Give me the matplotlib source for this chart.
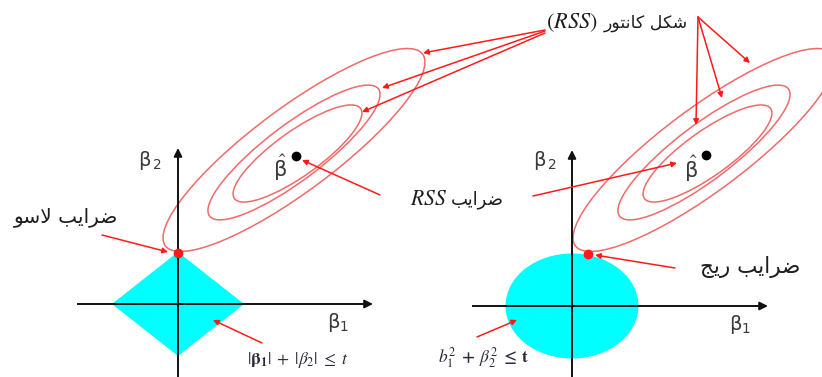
import matplotlib.pyplot as plt
from matplotlib.patches import Ellipse, Polygon

plt.rcParams['mathtext.fontset'] = 'stix'

# geometry, in pixels of the 822x377 picture
origin_x = [178, 572]
origin_y = [304, 306]
axis_left = [78, 473]
axis_right = [373, 768]
axis_top = [148, 150]
axis_bottom = 377

region_half_w = [66, 66.5]
region_half_h = [52, 52.5]

# RSS contour rings (same shape in both panels, shifted)
rss_cx = [295, 705]
ring_dx = [2.5, -1, -1]
ring_cy = [153.5, 152.5, 150]
ring_a = [77.5, 105.7, 160.4]
ring_b = [22.4, 27.9, 41.6]
ring_tilt = [35.5, 37, 36.7]

beta_hat_x = [296, 706]
beta_hat_y = [156, 155]
sol_x = [178, 588]
sol_y = [253, 254]

# pointer arrows (x0, y0, x1, y1)
pointers = [
    (545, 30, 423, 53), (545, 31, 382, 88), (545, 33, 362, 112),
    (698, 17, 696, 125), (698, 17, 722, 98), (698, 17, 750, 63),
    (380, 195, 302, 160), (533, 196, 677, 163),
    (102, 235, 168, 252), (675, 268, 595, 255),
    (262, 343, 213, 320), (477, 337, 517, 320),
]

# Persian labels (presentation forms, visual order)
zarayeb = "\uFE90\uFEF3\uFE8D\uFEAE\uFEBF"
lasso_txt = "\uFEEE\uFEB3\uFEFB " + zarayeb
ridge_txt = "\uFE9E\uFEF3\uFEAD " + zarayeb
contour_txt = "\uFEAD\uFEEE\uFE98\uFEE7\uFE8E\uFEDB \uFEDE\uFEDC\uFEB7"

fig = plt.figure(figsize=(8.22, 3.77), dpi=100)
ax = fig.add_axes([0, 0, 1, 1])
ax.set_xlim(0, 822)
ax.set_ylim(377, 0)
ax.axis('off')

red = '#ff1a1a'
ring_col = '#f06a6a'
txt_col = '#1e1e1e'

for i in range(2):
    ox, oy = origin_x[i], origin_y[i]
    hw, hh = region_half_w[i], region_half_h[i]
    if i == 0:
        ax.add_patch(Polygon([(ox - hw, oy), (ox, oy - hh), (ox + hw, oy), (ox, oy + hh)],
                             closed=True, color='#00ffff', lw=0, zorder=1))
    else:
        ax.add_patch(Ellipse((ox, oy), 2 * hw, 2 * hh, color='#00ffff', lw=0, zorder=1))

    # axes with arrow heads
    ax.plot([ox, ox], [axis_bottom, axis_top[i] + 8], color='#111111', lw=1.4, zorder=3)
    ax.plot([axis_left[i], axis_right[i] - 8], [oy, oy], color='#111111', lw=1.4, zorder=3)
    ax.annotate('', xy=(ox, axis_top[i]), xytext=(ox, axis_top[i] + 12),
                arrowprops=dict(arrowstyle='-|>', color='#111111', lw=1.4,
                                mutation_scale=12, shrinkA=0, shrinkB=0), zorder=3)
    ax.annotate('', xy=(axis_right[i], oy), xytext=(axis_right[i] - 12, oy),
                arrowprops=dict(arrowstyle='-|>', color='#111111', lw=1.4,
                                mutation_scale=12, shrinkA=0, shrinkB=0), zorder=3)

    for dx, cy, a, b, t in zip(ring_dx, ring_cy, ring_a, ring_b, ring_tilt):
        ax.add_patch(Ellipse((rss_cx[i] + dx, cy), 2 * a, 2 * b, angle=-t,
                             fill=False, ec=ring_col, lw=1.1, zorder=2))

    ax.plot(beta_hat_x[i], beta_hat_y[i], 'o', color='black', ms=6, zorder=5)
    ax.plot(sol_x[i], sol_y[i], 'o', color=red, ms=6, zorder=5)

for x0, y0, x1, y1 in pointers:
    ax.annotate('', xy=(x1, y1), xytext=(x0, y0),
                arrowprops=dict(arrowstyle='-|>', color=red, lw=1.1,
                                mutation_scale=8, shrinkA=0, shrinkB=0), zorder=4)

# axis names and beta hat
for x, y in [(150, 160), (545, 160)]:
    ax.text(x, y, r'$\mathregular{\beta_{\,2}}$', fontsize=14, color='#3a3a3a',
            ha='center', va='center', family='DejaVu Sans')
for x, y in [(338, 323), (740, 325)]:
    ax.text(x, y, r'$\mathregular{\beta_{1}}$', fontsize=14, color='#3a3a3a',
            ha='center', va='center', family='DejaVu Sans')
for x, y in [(280, 168), (691, 169)]:
    ax.text(x, y, r'$\hat{\mathregular{\beta}}$', fontsize=15, color='#3a3a3a',
            ha='center', va='center', family='DejaVu Sans')

ax.text(66, 217, lasso_txt, fontsize=14.5, color=txt_col, ha='center', va='center',
        family='DejaVu Sans')
ax.text(750, 267, ridge_txt, fontsize=15.5, color=txt_col, ha='center', va='center',
        family='DejaVu Sans')
ax.text(688, 23, contour_txt, fontsize=12.5, color=txt_col, ha='right', va='center',
        family='DejaVu Sans')
ax.text(546, 23, r'$(RSS)$', fontsize=16, color=txt_col, ha='left', va='center')
ax.text(504, 200, zarayeb, fontsize=13, color=txt_col, ha='right', va='center',
        family='DejaVu Sans')
ax.text(410, 199, r'$RSS$', fontsize=15.5, color=txt_col, ha='left', va='center')

ax.text(298, 360, r'$|\mathbf{\beta_1}|\;+\;|\beta_2|\;\leq\;t$', fontsize=12.5,
        color='#2a2a3a', ha='center', va='center')
ax.text(483, 358, r'$\boldsymbol{b_1^2\;+\;\beta_2^2\;\leq\;}\mathbf{t}$', fontsize=12.5,
        color='#2a2a3a', ha='center', va='center')

fig.savefig('out.png', dpi=100)
